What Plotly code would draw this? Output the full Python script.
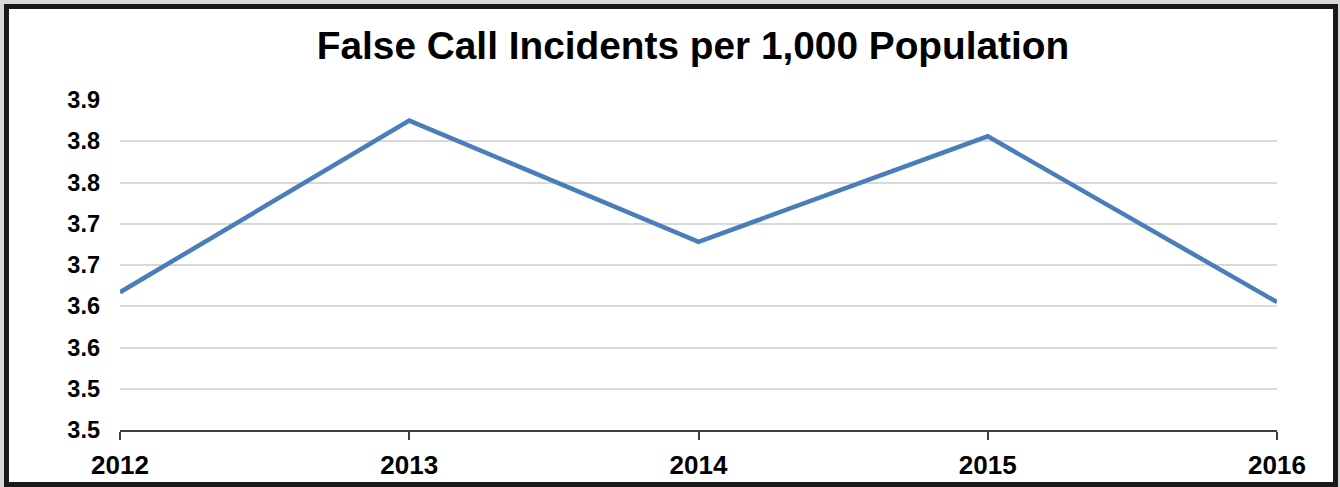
import plotly.graph_objects as go

years = [2012, 2013, 2014, 2015, 2016]
rates = [3.617, 3.825, 3.678, 3.806, 3.605]

y_tickvals = [3.45, 3.50, 3.55, 3.60, 3.65, 3.70, 3.75, 3.80, 3.85]
y_ticktext = ["3.5", "3.5", "3.6", "3.6", "3.7", "3.7", "3.8", "3.8", "3.9"]
x_ticktext = ["2012", "2013", "2014", "2015", "2016"]

W, H = 1340, 487
L, R, T, B = 120, 63, 100, 57
pw, ph = W - L - R, H - T - B


def px_x(p):
    return (p - L) / pw


def px_y(p):
    return (H - B - p) / ph


fig = go.Figure()
fig.add_trace(go.Scatter(
    x=years, y=rates, mode="lines",
    line=dict(color="#4A7EBB", width=4.5),
    hoverinfo="x+y", showlegend=False,
))

fig.update_layout(
    width=W, height=H,
    margin=dict(l=L, r=R, t=T, b=B, autoexpand=False),
    paper_bgcolor="#d9d9d9",
    plot_bgcolor="rgba(0,0,0,0)",
    title=dict(
        text="False Call Incidents per 1,000 Population",
        x=px_x(693), xref="paper", xanchor="center",
        y=1 - 45 / H, yref="container", yanchor="middle",
        font=dict(family="Arial, Liberation Sans", size=38.8, color="#000000", weight="bold"),
    ),
    font=dict(family="Arial, Liberation Sans", color="#000000"),
    shapes=[dict(
        type="rect", xref="paper", yref="paper", layer="below",
        x0=px_x(6.5), x1=px_x(1335.5), y0=px_y(6.5), y1=px_y(484.5),
        fillcolor="#ffffff", line=dict(color="#1a1a1a", width=5),
    )],
)

fig.update_xaxes(
    range=[2012, 2016], tickvals=years, ticktext=x_ticktext,
    showgrid=False, zeroline=False, automargin=False,
    showline=True, linecolor="#404040", linewidth=1.5,
    ticks="outside", ticklen=8, tickcolor="#404040", tickwidth=1.5,
    ticklabelstandoff=3,
    tickfont=dict(size=26, family="Arial, Liberation Sans", weight="bold", color="#000000"),
)
fig.update_yaxes(
    range=[3.45, 3.85], tickvals=y_tickvals, ticktext=y_ticktext,
    showgrid=True, gridcolor="#d9d9d9", gridwidth=1.5,
    zeroline=False, showline=False, ticks="", automargin=False,
    ticklabelstandoff=19,
    tickfont=dict(size=23.5, family="Arial, Liberation Sans", weight="bold", color="#000000"),
)

fig.write_html(
    "out.html",
    config={"displayModeBar": False},
    post_script="document.body.style.margin='0';document.documentElement.style.overflow='hidden';",
)
